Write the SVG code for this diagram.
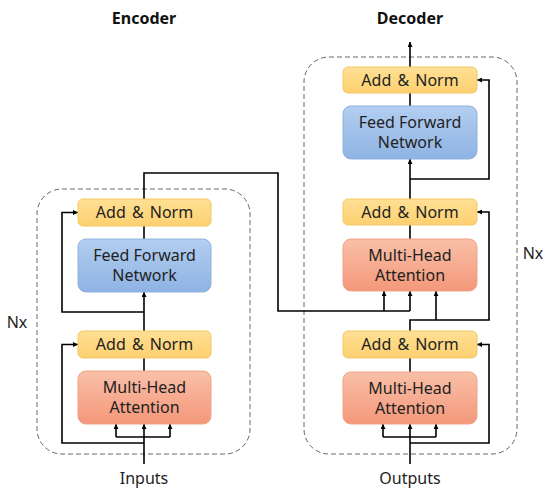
<svg xmlns="http://www.w3.org/2000/svg" width="543" height="491" viewBox="0 0 543 491">
<style>
text{font-family:"Noto Sans","Open Sans","Liberation Sans",sans-serif;fill:#222;text-anchor:middle}
.lbl{font-size:16px}
.ws{word-spacing:2px}
.title{font-size:16px;font-weight:bold;fill:#111}
.an{fill:url(#gAN);stroke:#F3C766;stroke-width:1}
.ff{fill:url(#gFF);stroke:#8FB2DD;stroke-width:1}
.mh{fill:url(#gMH);stroke:#EFA487;stroke-width:1}
.dash{fill:none;stroke:#666;stroke-width:1;stroke-dasharray:5,3}
.ln{fill:none;stroke:#000;stroke-width:1.6}
.ar{fill:none;stroke:#000;stroke-width:1.6;marker-end:url(#ah)}
</style>
<defs>
<linearGradient id="gAN" x1="0" y1="0" x2="0" y2="1"><stop offset="0" stop-color="#FFE094"/><stop offset="1" stop-color="#FDD070"/></linearGradient>
<linearGradient id="gFF" x1="0" y1="0" x2="0" y2="1"><stop offset="0" stop-color="#B3CEF0"/><stop offset="1" stop-color="#8EB3E3"/></linearGradient>
<linearGradient id="gMH" x1="0" y1="0" x2="0" y2="1"><stop offset="0" stop-color="#F9C0A8"/><stop offset="1" stop-color="#F4977A"/></linearGradient>
<marker id="ah" viewBox="0 0 10 10" refX="10" refY="5" markerWidth="5" markerHeight="5" markerUnits="userSpaceOnUse" orient="auto"><path d="M0,0 L10,5 L0,10 z" fill="#000"/></marker>
</defs>

<text class="title" x="144" y="24">Encoder</text>
<text class="title" x="410" y="24">Decoder</text>
<text class="lbl" x="17" y="328">Nx</text>
<text class="lbl" x="533" y="259">Nx</text>

<rect class="dash" x="37" y="189" width="213" height="265" rx="25"/>
<rect class="dash" x="304" y="57" width="213" height="397" rx="25"/>

<g id="connectors">
  <!-- encoder -->
  <path class="ln" d="M144,464 V437"/>
  <path class="ln" d="M116,437 H170"/>
  <path class="ar" d="M116,437 V424"/>
  <path class="ar" d="M144,437 V424"/>
  <path class="ar" d="M170,437 V424"/>
  <path class="ar" d="M144,443 H62 V344.5 H78"/>
  <path class="ln" d="M144,371 V358"/>
  <path class="ar" d="M144,331 V292"/>
  <path class="ar" d="M144,312 H62 V212.5 H78"/>
  <path class="ln" d="M144,239 V226"/>
  <path class="ln" d="M144,199 V173 H278 V311 H410"/>
  <path class="ar" d="M384,311 V291"/>
  <path class="ar" d="M410,311 V291"/>
  <!-- decoder -->
  <path class="ln" d="M410,464 V437"/>
  <path class="ln" d="M383,437 H436"/>
  <path class="ar" d="M383,437 V424"/>
  <path class="ar" d="M410,437 V424"/>
  <path class="ar" d="M436,437 V424"/>
  <path class="ar" d="M410,443 H489 V344.5 H477"/>
  <path class="ln" d="M410,372 V358"/>
  <path class="ar" d="M410,331 V320 H489 V212 H477"/>
  <path class="ar" d="M436,320 V291"/>
  <path class="ln" d="M410,239 V225"/>
  <path class="ar" d="M410,199 V159"/>
  <path class="ar" d="M410,179 H489 V80 H477"/>
  <path class="ln" d="M410,106 V93"/>
  <path class="ar" d="M410,67 V42"/>
</g>

<g id="enc-addnorm2"><rect class="an" x="78" y="199" width="133" height="27" rx="5"/><text class="lbl ws" x="144.5" y="218">Add &amp; Norm</text></g>
<g id="enc-ffn"><rect class="ff" x="78" y="239" width="133" height="53" rx="8"/><text class="lbl" x="144.5" y="261">Feed Forward</text><text class="lbl" x="144.5" y="281">Network</text></g>
<g id="enc-addnorm1"><rect class="an" x="78" y="331" width="133" height="27" rx="5"/><text class="lbl ws" x="144.5" y="350">Add &amp; Norm</text></g>
<g id="enc-mha"><rect class="mh" x="78" y="371" width="133" height="53" rx="8"/><text class="lbl" x="144.5" y="393">Multi-Head</text><text class="lbl" x="144.5" y="413">Attention</text></g>

<g id="dec-addnorm3"><rect class="an" x="343" y="67" width="134" height="26" rx="5"/><text class="lbl ws" x="410" y="86">Add &amp; Norm</text></g>
<g id="dec-ffn"><rect class="ff" x="343" y="106" width="134" height="53" rx="8"/><text class="lbl" x="410" y="128">Feed Forward</text><text class="lbl" x="410" y="148">Network</text></g>
<g id="dec-addnorm2"><rect class="an" x="343" y="199" width="134" height="26" rx="5"/><text class="lbl ws" x="410" y="218">Add &amp; Norm</text></g>
<g id="dec-mha2"><rect class="mh" x="343" y="239" width="134" height="52" rx="8"/><text class="lbl" x="410" y="261">Multi-Head</text><text class="lbl" x="410" y="281">Attention</text></g>
<g id="dec-addnorm1"><rect class="an" x="343" y="331" width="134" height="27" rx="5"/><text class="lbl ws" x="410" y="350">Add &amp; Norm</text></g>
<g id="dec-mha1"><rect class="mh" x="343" y="372" width="134" height="52" rx="8"/><text class="lbl" x="410" y="394">Multi-Head</text><text class="lbl" x="410" y="414">Attention</text></g>

<text class="lbl" x="144" y="484">Inputs</text>
<text class="lbl" x="410" y="484">Outputs</text>
</svg>
